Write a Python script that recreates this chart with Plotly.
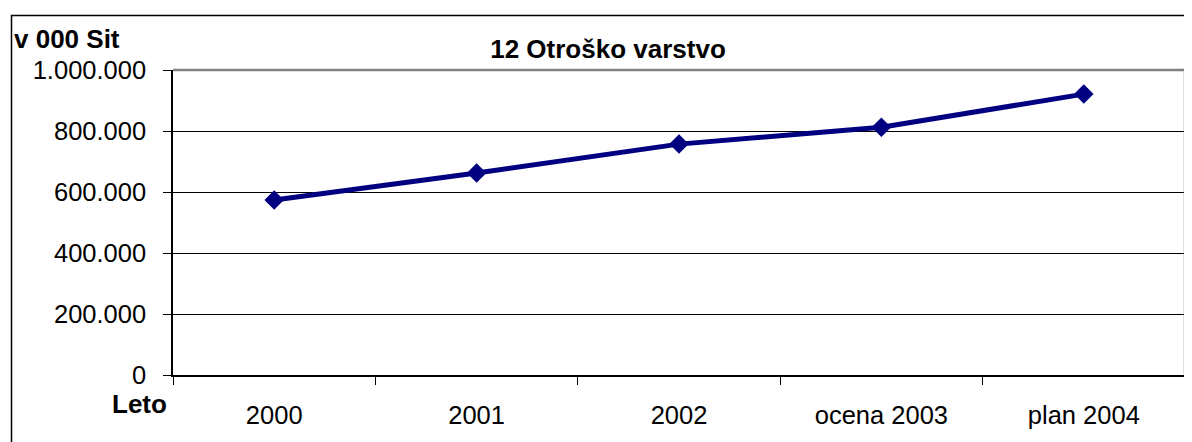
import plotly.graph_objects as go

# Podatki
leta = ["2000", "2001", "2002", "ocena 2003", "plan 2004"]
vrednosti = [574000, 662000, 757000, 812000, 921000]
y_ticks = [0, 200000, 400000, 600000, 800000, 1000000]

# stran ima privzeti rob 8px, zato je slika za toliko manjša
OFF = 8
W, H = 1192 - OFF, 442 - OFF
L, R, T, B = 173 - OFF, 7, 70 - OFF, 67
pw = W - L - R
ph = H - T - B


def px_x(sx):
    # zaslonska x koordinata -> paper
    return (sx - OFF - L) / pw


def px_y(sy):
    # zaslonska y koordinata -> paper
    return (H - B - (sy - OFF)) / ph


fig = go.Figure()

fig.add_trace(go.Scatter(
    x=leta, y=vrednosti,
    mode="lines+markers",
    line=dict(color="#000080", width=5),
    marker=dict(symbol="diamond", size=15, color="#000080"),
    showlegend=False,
))

font = "Liberation Sans, Arial, sans-serif"

fig.update_layout(
    width=W, height=H,
    margin=dict(l=L, r=R, t=T, b=B),
    paper_bgcolor="white", plot_bgcolor="white",
    separators=",.",
    font=dict(family=font, size=25.5, color="black"),
    title=dict(text="<b>12 Otroško varstvo</b>", font=dict(size=26),
               xref="container", yref="container",
               x=(608 - OFF) / W, y=1 - (49 - OFF) / H, xanchor="center", yanchor="middle"),
    xaxis=dict(
        type="category", range=[-0.5, 4.5],
        showline=True, linecolor="black", linewidth=1.5,
        ticks="outside", ticklen=8, tickcolor="black", tickwidth=1,
        tickson="boundaries", showgrid=False,
        ticklabelstandoff=17,
    ),
    yaxis=dict(
        range=[0, 1000000], tickvals=y_ticks, tickformat=",d",
        showline=True, linecolor="black", linewidth=1.5,
        ticks="outside", ticklen=8, tickcolor="black", tickwidth=1,
        showgrid=True, gridcolor="black", gridwidth=1,
        zeroline=False, ticklabelstandoff=12,
    ),
)

# okvir grafa (zgoraj in desno sivo)
fig.add_shape(type="line", xref="paper", yref="paper", x0=0, x1=1, y0=1, y1=1,
              line=dict(color="#808080", width=2.5))
fig.add_shape(type="line", xref="paper", yref="paper", x0=1, x1=1, y0=0, y1=1,
              line=dict(color="#808080", width=2.5))

# zunanji okvir
fig.add_shape(type="rect", xref="paper", yref="paper",
              x0=px_x(11.5), x1=1.2, y0=-0.5, y1=px_y(15.5),
              line=dict(color="black", width=1.5), layer="below")

fig.add_annotation(text="<b>v 000 Sit</b>", xref="paper", yref="paper",
                   x=px_x(12), y=px_y(39), xanchor="left", yanchor="middle",
                   showarrow=False, font=dict(size=26))
fig.add_annotation(text="<b>Leto</b>", xref="paper", yref="paper",
                   x=px_x(169), y=px_y(404), xanchor="right", yanchor="middle",
                   showarrow=False, font=dict(size=26))

fig.write_html("out.html")
